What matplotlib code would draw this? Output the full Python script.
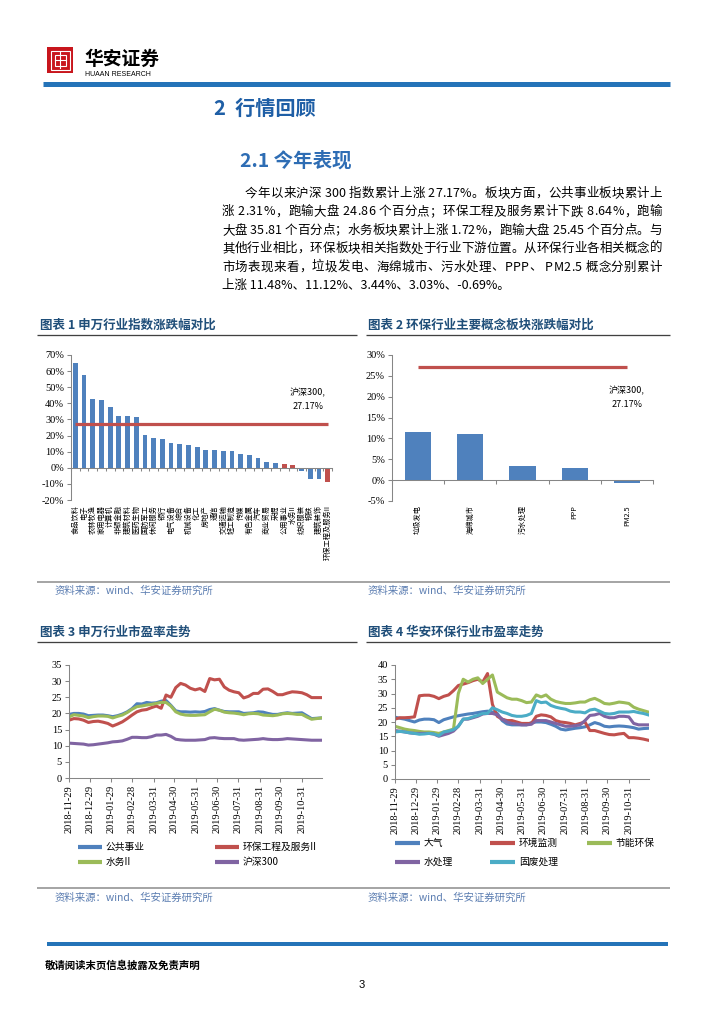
import numpy as np
import pandas as pd
import matplotlib
matplotlib.use('Agg')
import matplotlib.pyplot as plt
from matplotlib.lines import Line2D
from matplotlib.patches import Rectangle
from matplotlib.font_manager import FontProperties

plt.rcParams['font.family'] = ['Noto Sans CJK SC', 'DejaVu Sans']

# ---------------- data ----------------
# chart 1: 申万行业指数涨跌幅 (%)
ind_names = ['食品饮料', '电子', '农林牧渔', '家用电器', '计算机', '非银金融', '建筑材料',
             '医药生物', '国防军工', '休闲服务', '银行', '电气设备', '综合', '机械设备',
             '化工', '房地产', '通信', '交通运输', '轻工制造', '传媒', '有色金属', '汽车',
             '商业贸易', '采掘', '公用事业', '水务II', '纺织服装', '钢铁', '建筑装饰',
             '环保工程及服务II']
ind_chg = [65.2, 57.4, 43.0, 41.8, 37.5, 32.3, 32.1, 31.5, 20.3, 18.2, 18.1, 15.1, 14.5,
           13.9, 12.6, 11.2, 11.0, 10.4, 10.4, 8.5, 7.9, 6.0, 3.8, 2.9, 2.31, 1.72, -1.8,
           -6.8, -7.0, -8.64]
ind_red = ['公用事业', '水务II', '环保工程及服务II']
hs300_chg = 27.17

# chart 2: 环保概念板块涨跌幅 (%)
concept_names = ['垃圾发电', '海绵城市', '污水处理', 'PPP', 'PM2.5']
concept_chg = [11.48, 11.12, 3.44, 3.03, -0.69]

# charts 3/4: weekly PE readings
week_dates = pd.date_range('2018-11-29', periods=53, freq='7D')
tick_dates = ['2018-11-29', '2018-12-29', '2019-01-29', '2019-02-28', '2019-03-31',
              '2019-04-30', '2019-05-31', '2019-06-30', '2019-07-31', '2019-08-31',
              '2019-09-30', '2019-10-31']

pe_gysy = [19.7, 20.0, 20.0, 19.8, 19.3, 19.4, 19.5, 19.5, 19.3, 19.0, 19.3, 19.8, 20.5,
           21.5, 23.0, 22.9, 23.4, 23.2, 23.3, 23.8, 24.0, 22.5, 20.8, 20.5, 20.5, 20.4,
           20.5, 20.4, 20.6, 21.2, 21.5, 21.0, 20.6, 20.5, 20.5, 20.5, 20.0, 20.1, 20.2,
           20.5, 20.4, 20.0, 19.7, 19.7, 20.0, 20.2, 20.0, 20.1, 20.2, 19.3, 18.4, 18.5, 18.6]
pe_hbgc = [17.9, 18.4, 18.3, 17.9, 17.2, 17.5, 17.6, 17.3, 16.9, 16.1, 16.7, 17.4, 18.4,
           19.5, 20.5, 21.0, 21.2, 21.8, 22.3, 21.6, 25.7, 25.0, 28.0, 29.3, 28.8, 27.8,
           27.3, 27.7, 26.8, 30.8, 30.4, 30.6, 28.2, 27.2, 26.7, 26.4, 24.8, 25.3, 26.2,
           26.2, 27.5, 27.6, 26.8, 25.8, 25.8, 26.3, 26.7, 26.6, 26.4, 25.8, 24.9, 24.9, 24.9]
pe_sw = [18.9, 19.6, 19.4, 19.2, 18.7, 19.0, 19.2, 19.2, 19.1, 18.6, 19.1, 19.5, 20.3,
         21.3, 22.1, 22.3, 22.6, 22.8, 23.1, 23.4, 23.4, 22.3, 20.5, 19.8, 19.5, 19.4,
         19.4, 19.5, 19.6, 20.5, 21.3, 21.0, 20.4, 20.2, 20.1, 19.9, 19.6, 19.9, 20.0,
         19.9, 19.5, 19.4, 19.3, 19.5, 19.9, 20.0, 19.9, 19.7, 19.7, 18.9, 18.2, 18.4, 18.6]
pe_hs300 = [10.8, 10.7, 10.6, 10.5, 10.2, 10.3, 10.5, 10.7, 10.9, 11.2, 11.3, 11.5, 12.0,
            12.6, 12.6, 12.5, 12.5, 12.8, 13.3, 13.3, 13.5, 12.9, 12.0, 11.8, 11.7, 11.7,
            11.7, 11.8, 11.9, 12.4, 12.5, 12.3, 12.2, 12.2, 12.2, 11.8, 11.7, 11.8, 11.9,
            12.0, 12.2, 12.0, 11.9, 11.9, 12.0, 12.2, 12.1, 12.0, 11.9, 11.8, 11.7, 11.7, 11.7]

pe_dq = [21.7, 21.3, 21.0, 20.5, 20.0, 20.7, 21.0, 21.0, 20.8, 19.8, 20.8, 21.3, 21.8,
         22.2, 22.5, 22.8, 23.0, 23.3, 23.6, 23.8, 23.5, 23.0, 20.5, 19.3, 19.0, 19.0,
         19.0, 19.0, 19.8, 20.0, 20.0, 19.8, 19.2, 18.5, 17.5, 17.2, 17.5, 17.8, 18.0,
         18.3, 19.0, 19.8, 19.3, 18.5, 18.3, 18.5, 18.6, 18.5, 18.3, 18.0, 17.5, 17.7, 17.8]
pe_hjjc = [21.0, 21.5, 21.5, 21.6, 21.8, 29.2, 29.4, 29.4, 29.0, 28.2, 29.0, 29.5, 31.0,
           32.8, 33.3, 33.8, 34.5, 35.0, 34.0, 37.0, 26.2, 22.0, 21.0, 20.5, 20.5, 20.0,
           19.5, 19.5, 19.5, 22.0, 22.5, 22.3, 21.8, 20.5, 20.0, 19.8, 19.5, 19.0, 19.5,
           20.0, 17.0, 17.0, 16.5, 16.0, 15.6, 15.5, 15.8, 16.0, 14.5, 14.5, 14.3, 14.0, 13.6]
pe_jnhb = [18.5, 18.0, 17.5, 17.2, 17.0, 16.7, 16.5, 16.5, 16.3, 16.0, 16.5, 17.0, 17.5,
           30.0, 35.0, 34.0, 35.0, 35.5, 33.5, 35.0, 36.5, 30.5, 29.5, 28.5, 28.0, 28.0,
           27.5, 26.8, 27.0, 29.5, 28.8, 29.5, 28.0, 27.2, 26.8, 26.5, 26.5, 26.7, 27.0,
           27.0, 27.8, 28.3, 27.5, 26.5, 26.3, 26.6, 27.0, 26.8, 26.5, 25.2, 24.5, 24.0, 23.5]
pe_scl = [17.0, 16.8, 16.5, 16.2, 16.0, 16.0, 16.0, 16.0, 15.7, 15.0, 15.5, 16.0, 16.8,
          18.5, 21.0, 21.0, 21.5, 22.0, 22.8, 23.0, 23.0, 22.5, 21.0, 20.0, 19.5, 19.3,
          19.0, 19.0, 19.2, 20.5, 20.5, 20.5, 20.0, 19.5, 19.0, 18.5, 18.5, 18.7, 19.0,
          20.5, 22.3, 22.5, 23.0, 22.0, 21.5, 21.5, 22.0, 22.0, 21.8, 19.5, 19.0, 19.0, 19.0]
pe_gfcl = [16.5, 16.7, 16.5, 16.2, 16.0, 15.7, 15.8, 16.0, 15.8, 15.2, 16.5, 16.8, 17.3,
           18.5, 21.0, 21.2, 21.8, 22.3, 23.0, 23.0, 25.0, 24.3, 23.5, 23.0, 22.3, 22.0,
           22.0, 22.3, 23.0, 27.5, 26.8, 27.0, 25.8, 25.2, 24.8, 24.5, 23.8, 23.5, 23.5,
           23.2, 24.2, 24.5, 23.8, 23.0, 22.8, 23.0, 23.5, 23.5, 23.5, 23.7, 23.3, 23.0, 22.5]

c3_names = ['公共事业', '环保工程及服务II', '水务II', '沪深300']
c3_series = [pe_gysy, pe_hbgc, pe_sw, pe_hs300]
c4_names = ['大气', '环境监测', '节能环保', '水处理', '固废处理']
c4_series = [pe_dq, pe_hjjc, pe_jnhb, pe_scl, pe_gfcl]

para = ['今年以来沪深 300 指数累计上涨 27.17%。板块方面，公共事业板块累计上',
        '涨 2.31%，跑输大盘 24.86 个百分点；环保工程及服务累计下跌 8.64%，跑输',
        '大盘 35.81 个百分点；水务板块累计上涨 1.72%，跑输大盘 25.45 个百分点。与',
        '其他行业相比，环保板块相关指数处于行业下游位置。从环保行业各相关概念的',
        '市场表现来看，垃圾发电、海绵城市、污水处理、PPP、 PM2.5 概念分别累计',
        '上涨 11.48%、11.12%、3.44%、3.03%、-0.69%。']

BLUE, RED, GREEN, PURPLE, CYAN = '#4F81BD', '#C0504D', '#9BBB59', '#8064A2', '#4BACC6'
c3_colors = [BLUE, RED, GREEN, PURPLE]
c4_colors = [BLUE, RED, GREEN, PURPLE, CYAN]

# ---------------- page ----------------
W, H = 724, 1024
fig = plt.figure(figsize=(W / 100, H / 100), dpi=100)


def fx(x):
    return x / W


def fy(y):
    return 1 - y / H


def add_ax(l, t, r, b):
    return fig.add_axes([fx(l), fy(b), (r - l) / W, (b - t) / H])


def hline(x0, x1, y, color, lw_px):
    fig.add_artist(Line2D([fx(x0), fx(x1)], [fy(y), fy(y)], color=color,
                          lw=lw_px * 0.72, solid_capstyle='butt'))


def ftext(x, y, s, **kw):
    fig.text(fx(x), fy(y), s, **kw)


serif = 'Liberation Serif'
title_blue = '#1F4E79'
src_color = '#5B7DB1'

# header
fig.add_artist(Rectangle((fx(47), fy(73)), 26 / W, 26 / H, transform=fig.transFigure,
                         facecolor='#C8161D', edgecolor='none'))
fig.add_artist(Rectangle((fx(50.5), fy(69.5)), 19 / W, 19 / H, transform=fig.transFigure,
                         facecolor='none', edgecolor='white', lw=0.8))
fig.add_artist(Rectangle((fx(54.5), fy(65.5)), 11 / W, 11 / H, transform=fig.transFigure,
                         facecolor='none', edgecolor='white', lw=0.8))
fig.add_artist(Line2D([fx(60), fx(60)], [fy(52), fy(68)], color='white', lw=0.8))
fig.add_artist(Line2D([fx(54.5), fx(65.5)], [fy(60), fy(60)], color='white', lw=0.8))
ftext(84, 59, '华安证券', fontsize=13.5, fontweight='bold', va='center', ha='left')
ftext(85, 74.5, 'HUAAN RESEARCH', fontsize=5, family='Liberation Sans', va='center', ha='left')
hline(43, 670, 84, '#2473B8', 5)

ftext(214, 108, '2  行情回顾', fontsize=14.5, color='#1F5FA6', va='center', ha='left',
      fontweight='bold')
ftext(240, 161, '2.1 今年表现', fontsize=14, color='#2E6DB4', va='center', ha='left',
      fontweight='bold')

# justified paragraph
renderer = fig.canvas.get_renderer()
prop = FontProperties(family=['Noto Sans CJK SC', 'DejaVu Sans'], size=9)


def tw(s):
    if not s:
        return 0.0
    return renderer.get_text_width_height_descent(s, prop, ismath=False)[0]


for i, line in enumerate(para):
    x0 = 245 if i == 0 else 222
    y = 193.3 + i * 18.45
    if i == len(para) - 1:
        ftext(x0, y, line, fontproperties=prop, va='center', ha='left')
        continue
    total = tw(line)
    gap = (662 - x0 - total) / (len(line) - 1)
    for k, ch in enumerate(line):
        if ch == ' ':
            continue
        xk = x0 + tw(line[:k + 1]) - tw(ch) + k * gap
        ftext(xk, y, ch, fontproperties=prop, va='center', ha='left')

# section titles
ftext(40, 325, '图表 1 申万行业指数涨跌幅对比', fontsize=9, fontweight='bold', color=title_blue,
      va='center')
ftext(368, 325, '图表 2 环保行业主要概念板块涨跌幅对比', fontsize=9, fontweight='bold',
      color=title_blue, va='center')
hline(37, 357, 334.5, '#404040', 1.3)
hline(366, 670, 334.5, '#404040', 1.3)

hline(37, 670, 582, '#A6A6A6', 2)
ftext(55, 591, '资料来源：wind、华安证券研究所', fontsize=7.5, color=src_color, va='center')
ftext(368, 591, '资料来源：wind、华安证券研究所', fontsize=7.5, color=src_color, va='center')

ftext(40, 632, '图表 3 申万行业市盈率走势', fontsize=9, fontweight='bold', color=title_blue,
      va='center')
ftext(368, 632, '图表 4 华安环保行业市盈率走势', fontsize=9, fontweight='bold', color=title_blue,
      va='center')
hline(37, 357, 641.5, '#404040', 1.3)
hline(366, 670, 641.5, '#404040', 1.3)

hline(37, 670, 888, '#A6A6A6', 2)
ftext(55, 898, '资料来源：wind、华安证券研究所', fontsize=7.5, color=src_color, va='center')
ftext(368, 898, '资料来源：wind、华安证券研究所', fontsize=7.5, color=src_color, va='center')

# footer
hline(47, 668, 944, '#2473B8', 4)
ftext(45, 966, '敬请阅读末页信息披露及免责声明', fontsize=7.5, fontweight='bold', va='center')
ftext(362, 985, '3', fontsize=8, family='Liberation Sans', va='center', ha='center')


def base_style(ax):
    for s in ['top', 'right']:
        ax.spines[s].set_visible(False)
    for s in ['left', 'bottom']:
        ax.spines[s].set_color('#868686')
        ax.spines[s].set_linewidth(0.75)
    ax.tick_params(axis='both', color='#868686', labelcolor='black', length=3,
                   width=0.75, pad=2)
    ax.patch.set_alpha(0)


# ---------------- chart 1 ----------------
ax1 = add_ax(71, 355, 332, 500)
base_style(ax1)
n1 = len(ind_names)
x1 = np.arange(n1)
cols1 = [RED if n in ind_red else BLUE for n in ind_names]
ax1.bar(x1, ind_chg, width=0.55, color=cols1, zorder=2)
ax1.plot(x1, [hs300_chg] * n1, color=RED, lw=2.3, zorder=3, solid_capstyle='butt')
ax1.set_xlim(-0.5, n1 - 0.5)
ax1.set_ylim(-20, 70)
yt1 = np.arange(-20, 71, 10)
ax1.set_yticks(yt1)
ax1.set_yticklabels([f'{v}%' for v in yt1], family=serif, fontsize=7.5)
ax1.spines['bottom'].set_position(('data', 0))
ax1.set_xticks(np.arange(-0.5, n1, 1))
ax1.set_xticklabels([])
ax1.tick_params(axis='x', length=2)
tr1 = ax1.get_xaxis_transform()
for i, name in enumerate(ind_names):
    ax1.text(i, -0.035, name, transform=tr1, rotation=90, ha='center', va='top',
             fontsize=5.2)
ax1.text(26.7, 42.5, f'沪深300,\n{hs300_chg:.2f}%', ha='center', va='center',
         fontsize=6.5, linespacing=1.7, family=['Noto Sans CJK SC', serif])

# ---------------- chart 2 ----------------
ax2 = add_ax(392, 355, 653, 501)
base_style(ax2)
n2 = len(concept_names)
x2 = np.arange(n2)
ax2.bar(x2, concept_chg, width=0.5, color=BLUE, zorder=2)
ax2.plot(x2, [hs300_chg] * n2, color=RED, lw=2.3, zorder=3, solid_capstyle='butt')
ax2.set_xlim(-0.5, n2 - 0.5)
ax2.set_ylim(-5, 30)
yt2 = np.arange(-5, 31, 5)
ax2.set_yticks(yt2)
ax2.set_yticklabels([f'{v}%' for v in yt2], family=serif, fontsize=7.5)
ax2.spines['bottom'].set_position(('data', 0))
ax2.set_xticks(np.arange(-0.5, n2, 1))
ax2.set_xticklabels([])
ax2.tick_params(axis='x', length=3)
tr2 = ax2.get_xaxis_transform()
for i, name in enumerate(concept_names):
    ax2.text(i, -0.03, name, transform=tr2, rotation=90, ha='center', va='top', fontsize=5.2,
             family=['Noto Sans CJK SC', serif])
ax2.text(4.0, 19.8, f'沪深300,\n{hs300_chg:.2f}%', ha='center', va='center',
         fontsize=6.5, linespacing=1.7)


# ---------------- charts 3 / 4 ----------------
def pe_chart(ax, names, series, colors, ymax):
    base_style(ax)
    for name, vals, c in zip(names, series, colors):
        ax.plot(week_dates, vals, color=c, lw=2.2, label=name, solid_joinstyle='round')
    ax.set_ylim(0, ymax)
    yt = np.arange(0, ymax + 1, 5)
    ax.set_yticks(yt)
    ax.set_yticklabels([str(v) for v in yt], family=serif, fontsize=7.5)
    ax.set_xlim(pd.Timestamp('2018-11-29'), pd.Timestamp('2019-11-29'))
    ax.set_xticks(pd.to_datetime(tick_dates))
    ax.set_xticklabels(tick_dates, rotation=90, family=serif, fontsize=7.5)


ax3 = add_ax(69, 665, 322, 778)
pe_chart(ax3, c3_names, c3_series, c3_colors, 35)
ax4 = add_ax(395, 665, 649, 779)
pe_chart(ax4, c4_names, c4_series, c4_colors, 40)


def legend_item(x0, x1, y, color, label):
    fig.add_artist(Line2D([fx(x0), fx(x1)], [fy(y), fy(y)], color=color, lw=3.0,
                          solid_capstyle='butt'))
    ftext(x1 + 4, y, label, fontsize=7, va='center', ha='left')


leg3_pos = [(78, 847), (215, 847), (78, 862), (215, 862)]
for (lx, ly), name, c in zip(leg3_pos, c3_names, c3_colors):
    legend_item(lx, lx + 24, ly, c, name)

leg4_pos = [(395, 843), (490, 843), (587, 843), (395, 862), (490, 862)]
for (lx, ly), name, c in zip(leg4_pos, c4_names, c4_colors):
    legend_item(lx, lx + 25, ly, c, name)

fig.savefig('out.png', dpi=100)
